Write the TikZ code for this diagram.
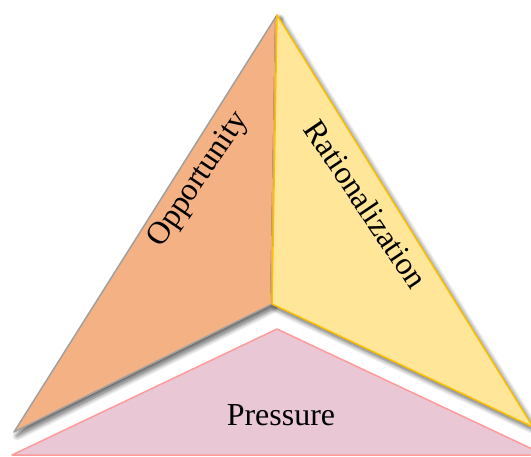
\documentclass[tikz,border=0pt]{standalone}
\usepackage{fontspec}
\setmainfont{Liberation Serif}
\usetikzlibrary{shadows.blur}
\definecolor{oppfill}{HTML}{F4B183}
\definecolor{oppline}{HTML}{A0A0A0}
\definecolor{ratfill}{HTML}{FFE699}
\definecolor{ratline}{HTML}{FFC000}
\definecolor{prefill}{HTML}{E9C7D4}
\definecolor{preline}{HTML}{FF9B9B}
\tikzset{
  face/.style={line width=1.5pt, line join=round,
    blur shadow={shadow xshift=3pt, shadow yshift=-4pt, shadow blur radius=5pt, shadow blur steps=12, shadow opacity=65}},
  label/.style={font=\fontsize{32}{38}\selectfont, inner sep=0pt}
}
\begin{document}
\begin{tikzpicture}[x=1pt,y=-1pt]
\useasboundingbox (0,0) rectangle (531,456);
\clip (0,0) rectangle (531,456);
\coordinate (T) at (277,15);
\coordinate (C) at (272,304);
\coordinate (L) at (14,432);
\coordinate (R) at (533,427);
\coordinate (PA) at (277,329);
\coordinate (PL) at (12,455);
\coordinate (PR) at (545,455);
\draw[line width=1.5pt, draw=preline, fill=prefill, line join=round] (PA) -- (PL) -- (PR) -- cycle;
\draw[face, draw=oppline, fill=oppfill] (T) -- (L) -- (C) -- cycle;
\draw[face, draw=ratline, fill=ratfill] (T) -- (C) -- (R) -- cycle;
\node[label, rotate=56] (opp) at (199,180) {Opportunity};
\node[label, rotate=-56] (rat) at (366,204) {Rationalization};
\node[label, anchor=base] (pre) at (281,425) {Pressure};
\end{tikzpicture}
\end{document}
